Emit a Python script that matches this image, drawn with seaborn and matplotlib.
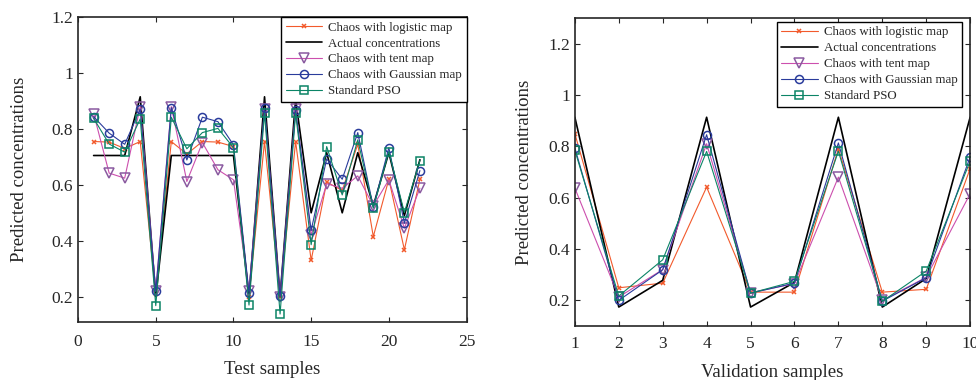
import numpy as np
import pandas as pd
import matplotlib
matplotlib.use("Agg")
import matplotlib.pyplot as plt
import seaborn as sns
from matplotlib.ticker import FormatStrFormatter

# test set (22 samples)
test_x = list(range(1, 23))
test_logistic = [0.755, 0.753, 0.73, 0.755, 0.21, 0.755, 0.71, 0.755, 0.753, 0.737, 0.2, 0.755,
                 0.2, 0.755, 0.33, 0.61, 0.58, 0.745, 0.415, 0.62, 0.368, 0.62]
test_actual = [0.705, 0.705, 0.705, 0.915, 0.2, 0.705, 0.705, 0.705, 0.705, 0.705, 0.2, 0.915,
               0.2, 0.905, 0.5, 0.715, 0.5, 0.715, 0.525, 0.715, 0.49, 0.69]
test_tent = [0.855, 0.642, 0.624, 0.88, 0.22, 0.88, 0.612, 0.751, 0.654, 0.618, 0.22, 0.87,
             0.2, 0.87, 0.42, 0.604, 0.588, 0.632, 0.525, 0.618, 0.445, 0.588]
test_gauss = [0.844, 0.785, 0.745, 0.871, 0.219, 0.876, 0.689, 0.842, 0.826, 0.743, 0.213, 0.876,
              0.201, 0.866, 0.437, 0.693, 0.62, 0.787, 0.52, 0.733, 0.463, 0.651]
test_pso = [0.838, 0.746, 0.717, 0.836, 0.168, 0.842, 0.729, 0.787, 0.802, 0.733, 0.17, 0.856,
            0.138, 0.856, 0.386, 0.737, 0.564, 0.761, 0.517, 0.719, 0.501, 0.687]

# validation set (10 samples)
val_x = list(range(1, 11))
val_logistic = [0.849, 0.249, 0.267, 0.641, 0.232, 0.232, 0.79, 0.232, 0.243, 0.713]
val_actual = [0.913, 0.174, 0.278, 0.913, 0.174, 0.27, 0.913, 0.174, 0.285, 0.913]
val_tent = [0.637, 0.213, 0.32, 0.81, 0.23, 0.265, 0.68, 0.2, 0.29, 0.615]
val_gauss = [0.793, 0.2, 0.319, 0.845, 0.228, 0.267, 0.813, 0.197, 0.288, 0.758]
val_pso = [0.784, 0.217, 0.358, 0.78, 0.228, 0.274, 0.781, 0.196, 0.314, 0.742]

sns.set_style("ticks")
plt.rcParams['font.family'] = ['Liberation Serif', 'DejaVu Serif']
plt.rcParams['xtick.direction'] = 'in'
plt.rcParams['ytick.direction'] = 'in'
plt.rcParams['xtick.top'] = True
plt.rcParams['ytick.right'] = True

series = [
    ("Chaos with logistic map", "#f25a2c", "x", 3.5, 0.8),
    ("Actual concentrations", "black", None, 0, 1.2),
    ("Chaos with tent map", "#cc4fae", "v", 6.5, 0.8),
    ("Chaos with Gaussian map", "#2a3c9c", "o", 5.8, 0.8),
    ("Standard PSO", "#0b8466", "s", 5.5, 0.8),
]

fig = plt.figure(figsize=(9.76, 3.8), dpi=100)
ax1 = fig.add_axes([0.080, 0.153, 0.398, 0.802])
ax2 = fig.add_axes([0.589, 0.142, 0.405, 0.811])


def draw(ax, x, ys):
    for (name, col, mk, ms, lw), y in zip(series, ys):
        edge = "#8a5aa0" if mk == "v" else col
        sns.lineplot(x=x, y=y, ax=ax, color=col, lw=lw, label=name,
                     marker=mk if mk else "", markersize=ms,
                     markerfacecolor="none" if mk != "x" else col,
                     markeredgecolor=edge, markeredgewidth=1.1)
    leg = ax.legend(loc="upper right", fontsize=9.3, frameon=True, fancybox=False,
                    edgecolor="black", framealpha=1, borderaxespad=0.0,
                    handlelength=2.8, labelspacing=0.3, borderpad=0.35,
                    handletextpad=0.5)
    leg.get_frame().set_linewidth(1.0)
    ax.yaxis.set_major_formatter(FormatStrFormatter('%g'))
    ax.tick_params(labelsize=12.5, length=3.5, width=0.8)
    for s in ax.spines.values():
        s.set_linewidth(1.2)
        s.set_visible(True)


draw(ax1, test_x, [test_logistic, test_actual, test_tent, test_gauss, test_pso])
ax1.set_xlim(0, 25)
ax1.set_ylim(0.11, 1.2)
ax1.set_yticks([0.2, 0.4, 0.6, 0.8, 1.0, 1.2])
ax1.tick_params(axis="x", pad=9)
ax1.set_xlabel("Test samples", fontsize=13.5, labelpad=8)
ax1.set_ylabel("Predicted concentrations", fontsize=13.5, labelpad=17)

draw(ax2, val_x, [val_logistic, val_actual, val_tent, val_gauss, val_pso])
ax2.set_xlim(1, 10)
ax2.set_ylim(0.1, 1.3)
ax2.set_xticks(val_x)
ax2.set_yticks([0.2, 0.4, 0.6, 0.8, 1.0, 1.2])
ax2.tick_params(axis="x", pad=7)
ax2.set_xlabel("Validation samples", fontsize=13.5, labelpad=9)
ax2.set_ylabel("Predicted concentrations", fontsize=13.5, labelpad=11)
ax2.legend_.set_bbox_to_anchor((0.98, 0.987))

fig.savefig("out.png", dpi=100)
